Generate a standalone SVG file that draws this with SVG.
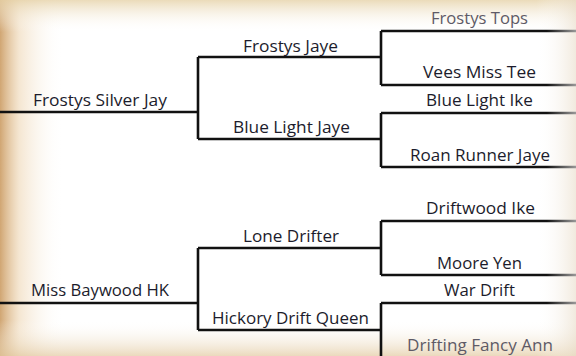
<svg xmlns="http://www.w3.org/2000/svg" width="576" height="356" viewBox="0 0 576 356">
  <defs>
    <linearGradient id="gl" x1="0" y1="0" x2="1" y2="0">
      <stop offset="0" stop-color="#c8965a" stop-opacity="0.85"/>
      <stop offset="0.3" stop-color="#e8c89a" stop-opacity="0.45"/>
      <stop offset="1" stop-color="#ffffff" stop-opacity="0"/>
    </linearGradient>
    <linearGradient id="gt" x1="0" y1="0" x2="0" y2="1">
      <stop offset="0" stop-color="#e6d2a8" stop-opacity="0.8"/>
      <stop offset="1" stop-color="#ffffff" stop-opacity="0"/>
    </linearGradient>
    <linearGradient id="gb" x1="0" y1="1" x2="0" y2="0">
      <stop offset="0" stop-color="#e2c9a0" stop-opacity="0.7"/>
      <stop offset="1" stop-color="#ffffff" stop-opacity="0"/>
    </linearGradient>
    <linearGradient id="gr" x1="1" y1="0" x2="0" y2="0">
      <stop offset="0" stop-color="#e8dcc8" stop-opacity="0.6"/>
      <stop offset="1" stop-color="#ffffff" stop-opacity="0"/>
    </linearGradient>
    <linearGradient id="fade" gradientUnits="userSpaceOnUse" x1="381" y1="0" x2="576" y2="0">
      <stop offset="0" stop-color="#111"/>
      <stop offset="0.85" stop-color="#111"/>
      <stop offset="1" stop-color="#999"/>
    </linearGradient>
    <style>
      .ln { fill: none; stroke: #111; stroke-width: 2.6; stroke-linecap: butt; stroke-linejoin: miter; }
      .lf { fill: none; stroke: url(#fade); stroke-width: 2.6; }
      text { font-family: "Open Sans", Lato, "Liberation Sans", sans-serif; font-size: 15.5px; fill: #1c1c2c; text-anchor: middle; }
      .dim { fill: #5e5a66; }
    </style>
  </defs>

  <rect width="576" height="356" fill="#ffffff"/>
  <rect width="64" height="356" fill="url(#gl)"/>
  <rect width="576" height="32" fill="url(#gt)"/>
  <rect y="320" width="576" height="36" fill="url(#gb)"/>
  <rect x="536" width="40" height="356" fill="url(#gr)"/>

  <g id="connectors">
    <path class="ln" d="M0 112 H198 M198 57 V139 M198 57 H381 M198 139 H381 M381 31 V85 M381 113 V167"/>
    <path class="ln" d="M0 303 H198 M198 248 V330 M198 248 H381 M198 330 H381 M381 221 V275 M381 303 V356"/>
    <path class="lf" d="M381 31 H576 M381 85 H576 M381 113 H576 M381 167 H576 M381 221 H576 M381 275 H576 M381 303 H576"/>
  </g>

  <g id="frostys-silver-jay"><text x="100" y="106" textLength="134" lengthAdjust="spacingAndGlyphs">Frostys Silver Jay</text></g>
  <g id="frostys-jaye"><text x="290.5" y="52" textLength="95" lengthAdjust="spacingAndGlyphs">Frostys Jaye</text></g>
  <g id="blue-light-jaye"><text x="291.5" y="133" textLength="117" lengthAdjust="spacingAndGlyphs">Blue Light Jaye</text></g>
  <g id="frostys-tops"><text class="dim" x="479.5" y="24" textLength="97" lengthAdjust="spacingAndGlyphs">Frostys Tops</text></g>
  <g id="vees-miss-tee"><text x="479.5" y="78" textLength="113" lengthAdjust="spacingAndGlyphs">Vees Miss Tee</text></g>
  <g id="blue-light-ike"><text x="479.5" y="106" textLength="107" lengthAdjust="spacingAndGlyphs">Blue Light Ike</text></g>
  <g id="roan-runner-jaye"><text x="480" y="161" textLength="140" lengthAdjust="spacingAndGlyphs">Roan Runner Jaye</text></g>

  <g id="miss-baywood-hk"><text x="100" y="296" textLength="138" lengthAdjust="spacingAndGlyphs">Miss Baywood HK</text></g>
  <g id="lone-drifter"><text x="291" y="242" textLength="96" lengthAdjust="spacingAndGlyphs">Lone Drifter</text></g>
  <g id="hickory-drift-queen"><text x="290.5" y="324" textLength="157" lengthAdjust="spacingAndGlyphs">Hickory Drift Queen</text></g>
  <g id="driftwood-ike"><text x="480.5" y="214" textLength="109" lengthAdjust="spacingAndGlyphs">Driftwood Ike</text></g>
  <g id="moore-yen"><text x="479.5" y="269" textLength="85" lengthAdjust="spacingAndGlyphs">Moore Yen</text></g>
  <g id="war-drift"><text x="479.5" y="296" textLength="71" lengthAdjust="spacingAndGlyphs">War Drift</text></g>
  <g id="drifting-fancy-ann"><text class="dim" x="480" y="351" textLength="146" lengthAdjust="spacingAndGlyphs">Drifting Fancy Ann</text></g>
</svg>
